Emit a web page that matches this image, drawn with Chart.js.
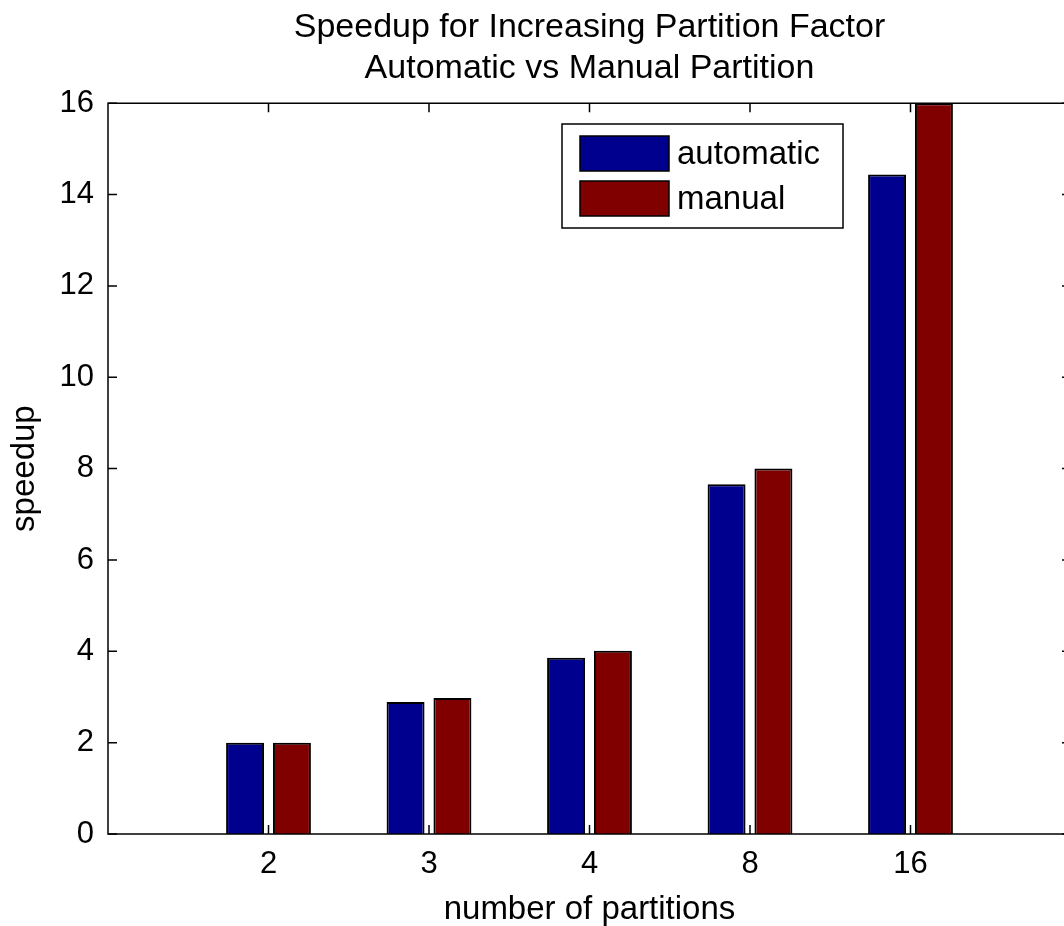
<!DOCTYPE html>
<html>
<head>
<meta charset="utf-8">
<script src="https://cdn.jsdelivr.net/npm/chart.js@4.4.0/dist/chart.umd.min.js"></script>
<style>
html,body{margin:0;padding:0;background:#fff;overflow:hidden;}
#wrap{width:1080px;height:926px;position:relative;}
</style>
</head>
<body>
<div id="wrap"><canvas id="c" width="1080" height="926"></canvas></div>
<script>
const categories = ['2', '3', '4', '8', '16'];
const automatic = [2.0, 2.89, 3.86, 7.66, 14.44];
const manual = [2.0, 2.98, 4.01, 8.0, 16.0];
const yTicks = [0, 2, 4, 6, 8, 10, 12, 14, 16];
const titleLines = ['Speedup for Increasing Partition Factor', 'Automatic vs Manual Partition'];
const FONT = "'Liberation Sans', Arial, sans-serif";

const toPoints = arr => arr.map((v, i) => ({x: i + 1, y: v}));

const boxPlugin = {
  id: 'box',
  afterDatasetsDraw(chart) {
    const {ctx, chartArea: a, scales} = chart;
    ctx.save();
    ctx.strokeStyle = '#000';
    ctx.lineWidth = 1.5;
    ctx.strokeRect(a.left, a.top, a.right - a.left, a.bottom - a.top);
    ctx.beginPath();
    const tl = 9;
    yTicks.forEach(v => {
      const y = scales.y.getPixelForValue(v);
      ctx.moveTo(a.left, y); ctx.lineTo(a.left + tl, y);
      ctx.moveTo(a.right, y); ctx.lineTo(a.right - tl, y);
    });
    categories.forEach((c, i) => {
      const x = scales.x.getPixelForValue(i + 1);
      ctx.moveTo(x, a.bottom); ctx.lineTo(x, a.bottom - tl);
      ctx.moveTo(x, a.top); ctx.lineTo(x, a.top + tl);
    });
    ctx.stroke();
    // legend
    const lx = 562, ly = 124, lw = 281, lh = 104;
    ctx.fillStyle = '#fff';
    ctx.fillRect(lx, ly, lw, lh);
    ctx.lineWidth = 1.5;
    ctx.strokeRect(lx, ly, lw, lh);
    chart.data.datasets.forEach((ds, i) => {
      const sy = 136 + i * 45;
      ctx.fillStyle = ds.backgroundColor;
      ctx.fillRect(580, sy, 89, 35);
      ctx.strokeStyle = '#000';
      ctx.lineWidth = 1.5;
      ctx.strokeRect(580, sy, 89, 35);
      ctx.fillStyle = '#000';
      ctx.font = '33px ' + FONT;
      ctx.textBaseline = 'middle';
      ctx.textAlign = 'left';
      ctx.fillText(ds.label, 677, sy + 19);
    });
    ctx.restore();
  }
};

new Chart(document.getElementById('c'), {
  type: 'bar',
  data: {
    datasets: [
      {label: 'automatic', data: toPoints(automatic), backgroundColor: '#00008f', borderColor: '#000', borderWidth: 2},
      {label: 'manual', data: toPoints(manual), backgroundColor: '#800000', borderColor: '#000', borderWidth: 2}
    ]
  },
  plugins: [boxPlugin],
  options: {
    responsive: false,
    animation: false,
    events: [],
    layout: {padding: {left: 0, right: 9, top: 0, bottom: 0}},
    datasets: {bar: {categoryPercentage: 0.584, barPercentage: 0.81, grouped: true}},
    plugins: {
      legend: {display: false},
      tooltip: {enabled: false},
      title: {
        display: true,
        fullSize: false,
        text: titleLines,
        color: '#000',
        font: {family: FONT, size: 34, weight: 'normal', lineHeight: 1.18},
        padding: {top: 8, bottom: 15}
      }
    },
    scales: {
      x: {
        type: 'linear',
        min: 0, max: 6,
        offset: false,
        grid: {display: false},
        border: {display: false},
        afterBuildTicks: s => { s.ticks = categories.map((c, i) => ({value: i + 1})); },
        afterFit: s => { s.height = 92; },
        ticks: {
          color: '#000',
          font: {family: FONT, size: 31},
          padding: 4,
          autoSkip: false,
          maxRotation: 0,
          callback: v => categories[v - 1]
        },
        title: {display: true, text: 'number of partitions', color: '#000', font: {family: FONT, size: 33, lineHeight: 1.0}, padding: {top: 0, bottom: 0}}
      },
      y: {
        min: 0, max: 16,
        grid: {display: false},
        border: {display: false},
        afterBuildTicks: s => { s.ticks = yTicks.map(v => ({value: v})); },
        afterFit: s => { s.width = 108; },
        ticks: {color: '#000', font: {family: FONT, size: 31}, padding: 6},
        title: {display: true, text: 'speedup', color: '#000', font: {family: FONT, size: 33}, padding: {top: 5, bottom: 0}}
      }
    }
  }
});
</script>
</body>
</html>
